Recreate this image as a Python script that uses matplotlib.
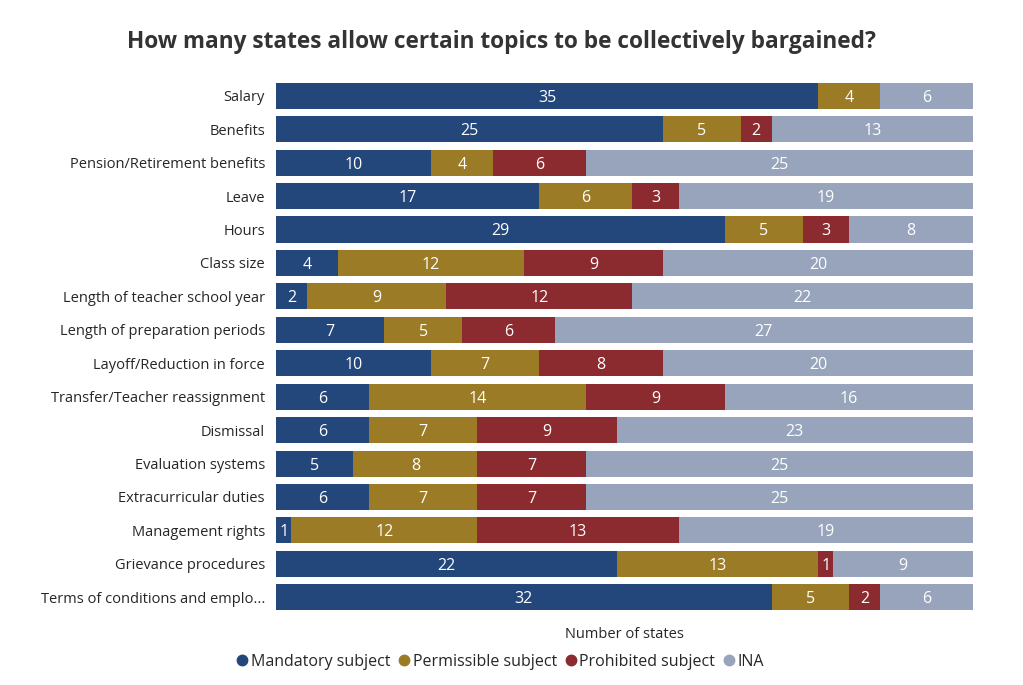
import numpy as np
import matplotlib.pyplot as plt
from matplotlib.lines import Line2D

plt.rcParams['font.family'] = ['Open Sans', 'DejaVu Sans']

topics = [
    "Salary", "Benefits", "Pension/Retirement benefits", "Leave", "Hours",
    "Class size", "Length of teacher school year", "Length of preparation periods",
    "Layoff/Reduction in force", "Transfer/Teacher reassignment", "Dismissal",
    "Evaluation systems", "Extracurricular duties", "Management rights",
    "Grievance procedures", "Terms of conditions and emplo...",
]
mandatory = [35, 25, 10, 17, 29, 4, 2, 7, 10, 6, 6, 5, 6, 1, 22, 32]
permissible = [4, 5, 4, 6, 5, 12, 9, 5, 7, 14, 7, 8, 7, 12, 13, 5]
prohibited = [0, 2, 6, 3, 3, 9, 12, 6, 8, 9, 9, 7, 7, 13, 1, 2]
ina = [6, 13, 25, 19, 8, 20, 22, 27, 20, 16, 23, 25, 25, 19, 9, 6]

series = [
    ("Mandatory subject", mandatory, "#23467b"),
    ("Permissible subject", permissible, "#9c7b26"),
    ("Prohibited subject", prohibited, "#8b2b30"),
    ("INA", ina, "#98a4bc"),
]

fig = plt.figure(figsize=(10.23, 6.85), dpi=100)
ax = fig.add_axes([0.2698, 0.1036, 0.6812, 0.7811])

y = np.arange(len(topics))
left = np.zeros(len(topics))
for name, vals, color in series:
    vals = np.array(vals, dtype=float)
    ax.barh(y, vals, left=left, height=0.78, color=color, label=name)
    for yi, l, v in zip(y, left, vals):
        if v > 0:
            ax.text(l + v / 2, yi, f"{int(v)}", ha="center", va="center_baseline",
                    color="white", fontsize=11.5)
    left += vals

ax.set_xlim(0, 45)
ax.set_ylim(len(topics) - 0.5, -0.5)
ax.set_yticks(y)
ax.set_yticklabels(topics, fontsize=10.5, color="#262626")
ax.tick_params(axis="y", length=0, pad=8)
ax.set_xticks([])
for s in ax.spines.values():
    s.set_visible(False)

ax.set_xlabel("Number of states", fontsize=10.5, color="#262626", labelpad=9)

fig.text(0.49, 0.938, "How many states allow certain topics to be collectively bargained?",
         ha="center", va="center", fontsize=16.3, fontweight="bold", color="#333333")

handles = [Line2D([], [], marker="o", linestyle="", markersize=7.5,
                  markerfacecolor=c, markeredgecolor=c) for _, _, c in series]
fig.legend(handles, [n for n, _, _ in series], loc="center",
           bbox_to_anchor=(0.489, 0.034), ncol=4, frameon=False, fontsize=11.5,
           handlelength=0.7, handletextpad=0.2, columnspacing=0.5,
           labelcolor="#262626")

fig.savefig("out.png", dpi=100)
